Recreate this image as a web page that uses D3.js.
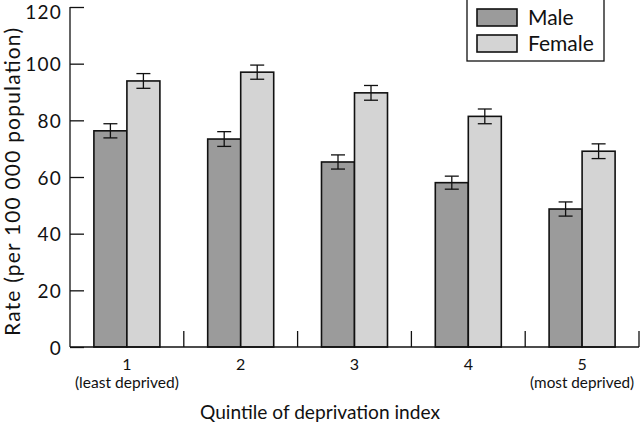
<!DOCTYPE html>
<html><head><meta charset="utf-8">
<script src="https://cdn.jsdelivr.net/npm/d3@7"></script>
<style>body{margin:0;background:#fff}svg{display:block}text{font-family:"Lato","Noto Sans",sans-serif;fill:#111}</style>
</head><body><svg id="c" width="640" height="433"></svg>
<script>
const categories = ["1","2","3","4","5"];
const subLabels = ["(least deprived)","","","","(most deprived)"];
const series = ["Male","Female"];
const maleValues = [76.3, 73.4, 65.3, 58.0, 48.7];
const femaleValues = [93.9, 97.0, 89.7, 81.4, 69.1];
const maleErr = [2.5, 2.6, 2.5, 2.3, 2.5];
const femaleErr = [2.6, 2.5, 2.6, 2.6, 2.6];
const yTicks = [0,20,40,60,80,100,120];
const colors = {Male:"#9b9b9b", Female:"#d4d4d4"};

(function(){
const svg = d3.select("#c");
const pL = 70, pR = 639, pT = 7, pB = 347;
const x = d3.scaleBand().domain(categories).range([pL, pR]).paddingInner(0).paddingOuter(0);
const xs = d3.scaleBand().domain(series).range([0, x.bandwidth()]).paddingInner(0).paddingOuter(0.724);
const y = d3.scaleLinear().domain([0,120]).range([pB, pT]);

const data = categories.map((c,i)=>({c, vals:[
  {s:"Male", v:maleValues[i], e:maleErr[i]},
  {s:"Female", v:femaleValues[i], e:femaleErr[i]}]}));

// bars
const g = svg.append("g");
const grp = g.selectAll("g.grp").data(data).join("g").attr("transform", d=>`translate(${x(d.c)},0)`);
grp.selectAll("rect").data(d=>d.vals).join("rect")
  .attr("x", d=>xs(d.s)).attr("width", xs.bandwidth())
  .attr("y", d=>y(d.v)).attr("height", d=>y(0)-y(d.v))
  .attr("fill", d=>colors[d.s]).attr("stroke","#111").attr("stroke-width",1.6);
// error bars
const eb = grp.selectAll("g.eb").data(d=>d.vals).join("g").attr("class","eb")
  .attr("transform", d=>`translate(${xs(d.s)+xs.bandwidth()/2},0)`);
eb.append("line").attr("x1",0).attr("x2",0).attr("y1",d=>y(d.v+d.e)).attr("y2",d=>y(d.v-d.e)).attr("stroke","#111").attr("stroke-width",1.3);
eb.append("line").attr("x1",-7).attr("x2",7).attr("y1",d=>y(d.v+d.e)).attr("y2",d=>y(d.v+d.e)).attr("stroke","#111").attr("stroke-width",1.3);
eb.append("line").attr("x1",-7).attr("x2",7).attr("y1",d=>y(d.v-d.e)).attr("y2",d=>y(d.v-d.e)).attr("stroke","#111").attr("stroke-width",1.3);

// y axis
const ya = svg.append("g").attr("transform",`translate(${pL},0)`)
  .call(d3.axisRight(y).tickValues(yTicks).tickSize(14).tickFormat(d3.format("d")));
ya.select(".domain").attr("stroke","#111").attr("stroke-width",1.3).attr("d",`M0,${pT}V${pB}`);
ya.selectAll(".tick line").attr("stroke","#111").attr("stroke-width",1.3);
ya.selectAll(".tick text").attr("x",-8).attr("text-anchor","end").attr("font-size",19).attr("fill","#111")
  .attr("font-family","Lato, sans-serif").attr("dy",d=>d===120?"0.62em":"0.38em").attr("letter-spacing",1.2);

// x axis
const xa = svg.append("g").attr("transform",`translate(0,${pB})`)
  .call(d3.axisBottom(x).tickSize(0).tickPadding(8));
xa.select(".domain").attr("stroke","#111").attr("stroke-width",1.3).attr("d",`M${pL},0H${pR}`);
xa.selectAll(".tick text").attr("font-size",16).attr("fill","#111").attr("font-family","Lato, sans-serif").attr("dy","0.95em");
xa.selectAll(".tick").append("text").attr("y",36).attr("dy","0.3em").attr("text-anchor","middle")
  .attr("font-size",15).attr("fill","#111").attr("font-family","Lato, sans-serif")
  .attr("textLength",(d,i)=>subLabels[i]?104:null).attr("lengthAdjust","spacingAndGlyphs")
  .text((d,i)=>subLabels[i]);
// separator ticks
svg.append("g").selectAll("line").data(categories).join("line")
  .attr("x1",d=>x(d)+x.bandwidth()).attr("x2",d=>x(d)+x.bandwidth())
  .attr("y1",pB).attr("y2",pB-16).attr("stroke","#111").attr("stroke-width",1.3);

// titles
svg.append("text").attr("x",320).attr("y",419).attr("text-anchor","middle").attr("font-size",20)
  .attr("textLength",240).attr("lengthAdjust","spacingAndGlyphs").text("Quintile of deprivation index");
svg.append("text").attr("transform","translate(20,182) rotate(-90)").attr("text-anchor","middle").attr("font-size",21)
  .attr("textLength",308).attr("lengthAdjust","spacing").text("Rate (per 100 000 population)");

// legend
const lg = svg.append("g");
lg.append("rect").attr("x",467).attr("y",-2).attr("width",137).attr("height",63).attr("fill","#fff").attr("stroke","#111").attr("stroke-width",1.3);
const li = lg.selectAll("g.li").data(series).join("g").attr("transform",(d,i)=>`translate(477,${9+i*26})`);
li.append("rect").attr("width",40).attr("height",17).attr("fill",d=>colors[d]).attr("stroke","#111").attr("stroke-width",1.6);
li.append("text").attr("x",51).attr("y",9).attr("dy","0.35em").attr("font-size",21).text(d=>d);
})();
</script></body></html>
